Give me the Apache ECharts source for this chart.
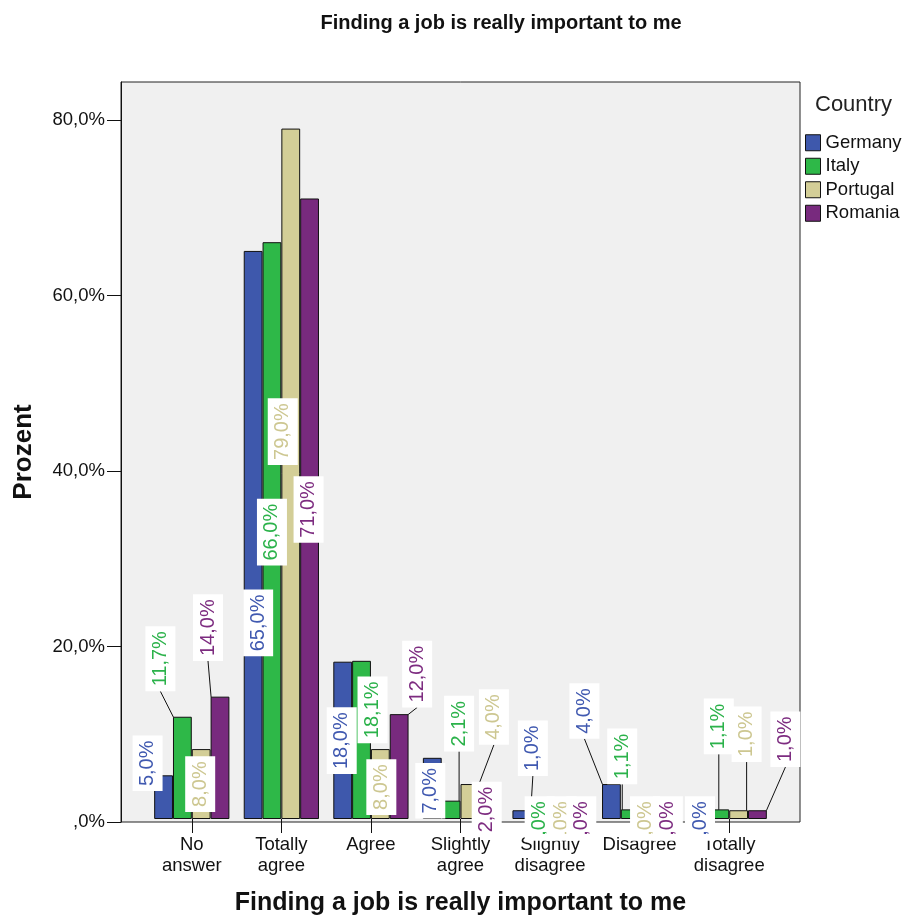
<!DOCTYPE html>
<html><head><meta charset="utf-8">
<script src="https://cdn.jsdelivr.net/npm/echarts@6/dist/echarts.min.js"></script>
<style>html,body{margin:0;padding:0;background:#fff}#c{width:906px;height:921px}</style>
</head><body><div id="c"></div>
<script>
// ---- data ----
const categories = ['No\nanswer', 'Totally\nagree', 'Agree', 'Slightly\nagree', 'Slightly\ndisagree', 'Disagree', 'Totally\ndisagree'];
const countries = ['Germany', 'Italy', 'Portugal', 'Romania'];
const germany  = [5.0, 65.0, 18.0, 7.0, 1.0, 4.0, 0.0];
const italy    = [11.7, 66.0, 18.1, 2.1, 0.0, 1.1, 1.1];
const portugal = [8.0, 79.0, 8.0, 4.0, 0.0, 0.0, 1.0];
const romania  = [14.0, 71.0, 12.0, 2.0, 0.0, 0.0, 1.0];
const yTicks = [0, 20, 40, 60, 80];
const chartTitle = 'Finding a job is really important to me';
const xTitle = 'Finding a job is really important to me';
const yTitle = 'Prozent';
const legendTitle = 'Country';

// ---- styling ----
const FONT = "'Liberation Sans', Arial, sans-serif";
const barColors = ['#3e58ac', '#2eb848', '#d3ce97', '#782a7e'];
const labelColors = ['#4059b0', '#2bb24a', '#cdc791', '#7d2c80'];
// label placement (pixel shift of label centre from bar top-centre, leader line flag)
const LABEL_SHIFT = [
  [[-16,-12,0],[5,372,0],[-1,79,0],[-2,33,0],[11,-62,1],[-27,-73,1],[-1,0,0]],
  [[-22,-58,1],[0,290,0],[11,49,0],[8,-77,1],[-1,0,0],[-8,-53,1],[-1,-83,1]],
  [[-1,35,0],[-8,303,0],[1,38,0],[24,-67,1],[2,0,0],[-4,0,0],[8,-76,1]],
  [[-12,-69,1],[-1,311,0],[18,-40,1],[-2,8,0],[3,0,0],[0,0,0],[28,-71,1]]
];

function pct(v) {
  let s = v.toFixed(1).replace('.', ',');
  if (s.indexOf('0,') === 0) s = s.slice(1);
  return s + '%';
}

const values = [germany, italy, portugal, romania];
const YMAX = 84.33;

const chart = echarts.init(document.getElementById('c'), null, {renderer: 'canvas'});

const series = values.map(function (arr, si) {
  return {
    name: countries[si],
    type: 'bar',
    xAxisIndex: 1,
    yAxisIndex: 1,
    barGap: '0%',
    barCategoryGap: '16%',
    itemStyle: {color: barColors[si], borderColor: '#111', borderWidth: 1},
    emphasis: {disabled: true},
    data: arr.map(function (v, k) {
      return {value: v, labelLine: {show: !!LABEL_SHIFT[si][k][2]}};
    }),
    label: {
      show: true,
      position: 'top',
      rotate: 90,
      formatter: function (p) { return pct(p.value); },
      color: labelColors[si],
      fontSize: 20,
      lineHeight: 22,
      fontFamily: FONT,
      backgroundColor: '#ffffff',
      padding: [4, 5]
    },
    labelLine: {show: false, lineStyle: {color: '#111', width: 1}},
    labelLayout: function (p) {
      const o = LABEL_SHIFT[si][p.dataIndex];
      const r = p.rect;
      return {x: r.x + r.width / 2 + o[0], y: r.y + o[1], align: 'center', verticalAlign: 'middle', hideOverlap: false};
    }
  };
});

chart.setOption({
  animation: false,
  backgroundColor: '#ffffff',
  textStyle: {fontFamily: FONT},
  title: {
    text: chartTitle, left: 496, top: 8, textAlign: 'center',
    textStyle: {fontSize: 20, fontWeight: 'bold', color: '#111', fontFamily: FONT}
  },
  graphic: [{
    type: 'text', left: 815, top: 94,
    style: {text: legendTitle, font: '22px ' + FONT, fill: '#222'}
  }],
  legend: {
    orient: 'vertical', left: 805, top: 131, padding: 0,
    itemWidth: 15, itemHeight: 16, itemGap: 0, selectedMode: false,
    icon: 'rect',
    itemStyle: {borderColor: '#111', borderWidth: 1},
    textStyle: {fontSize: 18.5, lineHeight: 23.5, color: '#111', fontFamily: FONT},
    data: countries
  },
  grid: [
    {left: 121, right: 106, top: 82, bottom: 99, show: true, backgroundColor: '#f0f0f0', borderColor: '#222', borderWidth: 1},
    {left: 147, right: 132, top: 82, bottom: 99}
  ],
  xAxis: [
    {gridIndex: 0, type: 'value', show: false, min: 0, max: 1},
    {
      gridIndex: 1, type: 'category', data: categories,
      axisLine: {show: false},
      axisTick: {show: true, alignWithLabel: true, length: 14, lineStyle: {color: '#111'}},
      axisLabel: {fontSize: 18.5, lineHeight: 21, color: '#111', margin: 15, interval: 0, fontFamily: FONT},
      name: xTitle, nameLocation: 'middle', nameGap: 72,
      nameTextStyle: {fontSize: 25, fontWeight: 'bold', color: '#111', fontFamily: FONT}
    }
  ],
  yAxis: [
    {
      gridIndex: 0, type: 'value', min: 0, max: YMAX, interval: 20,
      axisLine: {show: true, lineStyle: {color: '#111'}},
      axisTick: {show: true, inside: false, length: 14, customValues: yTicks, lineStyle: {color: '#111'}},
      axisLabel: {customValues: yTicks, formatter: pct, fontSize: 18.5, color: '#111', margin: 16, fontFamily: FONT},
      splitLine: {show: false},
      name: yTitle, nameLocation: 'middle', nameGap: 84,
      nameTextStyle: {fontSize: 26, fontWeight: 'bold', color: '#111', fontFamily: FONT}
    },
    {gridIndex: 1, type: 'value', min: 0, max: YMAX, show: false, splitLine: {show: false}}
  ],
  series: series
});
</script></body></html>
